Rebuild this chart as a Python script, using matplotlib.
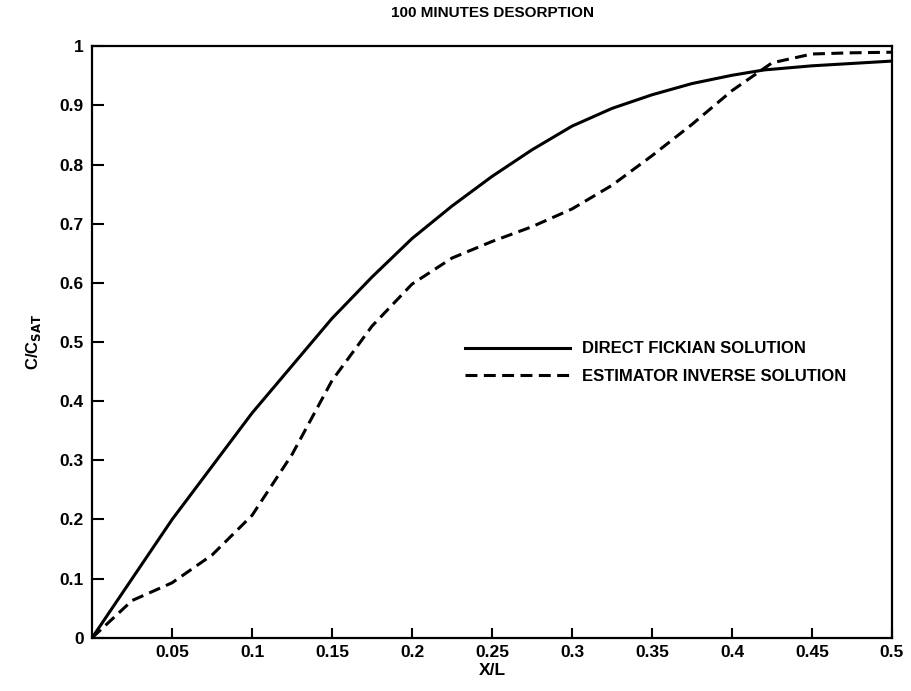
import matplotlib
matplotlib.use("Agg")
import matplotlib.pyplot as plt

# values
x_direct = [0, 0.025, 0.05, 0.075, 0.1, 0.125, 0.15, 0.175, 0.2, 0.225, 0.25,
            0.275, 0.3, 0.325, 0.35, 0.375, 0.4, 0.42, 0.45, 0.475, 0.5]
c_direct = [0, 0.10, 0.20, 0.29, 0.38, 0.46, 0.54, 0.61, 0.675, 0.73, 0.78,
            0.825, 0.865, 0.895, 0.918, 0.937, 0.951, 0.96, 0.967, 0.971,
            0.975]

x_inverse = [0, 0.025, 0.05, 0.075, 0.1, 0.125, 0.15, 0.175, 0.2, 0.225, 0.25,
             0.275, 0.3, 0.325, 0.35, 0.375, 0.4, 0.425, 0.45, 0.475, 0.5]
c_inverse = [0, 0.063, 0.093, 0.14, 0.207, 0.31, 0.435, 0.527, 0.598, 0.642,
             0.67, 0.695, 0.725, 0.765, 0.815, 0.868, 0.925, 0.972, 0.987,
             0.989, 0.99]

xticks = [0.05, 0.1, 0.15, 0.2, 0.25, 0.3, 0.35, 0.4, 0.45, 0.5]
xtick_labels = ["0.05", "0.1", "0.15", "0.2", "0.25", "0.3", "0.35", "0.4",
                "0.45", "0.5"]
yticks = [0, 0.1, 0.2, 0.3, 0.4, 0.5, 0.6, 0.7, 0.8, 0.9, 1.0]
ytick_labels = ["0", "0.1", "0.2", "0.3", "0.4", "0.5", "0.6", "0.7", "0.8",
                "0.9", "1"]

plt.rcParams["font.family"] = ["Liberation Sans", "DejaVu Sans"]
plt.rcParams["font.weight"] = "bold"
plt.rcParams["mathtext.default"] = "bf"

fig = plt.figure(figsize=(9.12, 6.91), dpi=100)
ax = fig.add_axes([0.101, 0.077, 0.877, 0.856])

DASH = (0, (3.9, 2.1))
ax.plot(x_direct, c_direct, color="black", lw=2.2,
        label="DIRECT FICKIAN SOLUTION")
ax.plot(x_inverse, c_inverse, color="black", lw=2.2, linestyle=DASH,
        label="ESTIMATOR INVERSE SOLUTION")

ax.set_xlim(0, 0.5)
ax.set_ylim(0, 1)
ax.set_xticks(xticks)
ax.set_xticklabels(xtick_labels)
ax.set_yticks(yticks)
ax.set_yticklabels(ytick_labels)
ax.tick_params(axis="x", direction="in", length=7, width=1.5, pad=5,
               labelsize=12.5)
ax.tick_params(axis="y", direction="in", length=8.5, width=1.5, pad=6,
               labelsize=12.5)
for s in ax.spines.values():
    s.set_linewidth(1.6)

ax.set_xlabel("X/L", fontsize=12.5, fontweight="bold", labelpad=2)
ax.set_ylabel(r"C/C$_{\mathbf{SAT}}$", fontsize=12, fontweight="bold",
              labelpad=12)
ax.set_title("100 MINUTES DESORPTION", fontsize=11, fontweight="bold",
             pad=21)

ax.legend(loc="center left", bbox_to_anchor=(0.466, 0.465), frameon=False,
          fontsize=12, handlelength=6.3, handletextpad=0.75, labelspacing=0.75,
          borderpad=0, borderaxespad=0)

fig.savefig("out.png", dpi=100)
